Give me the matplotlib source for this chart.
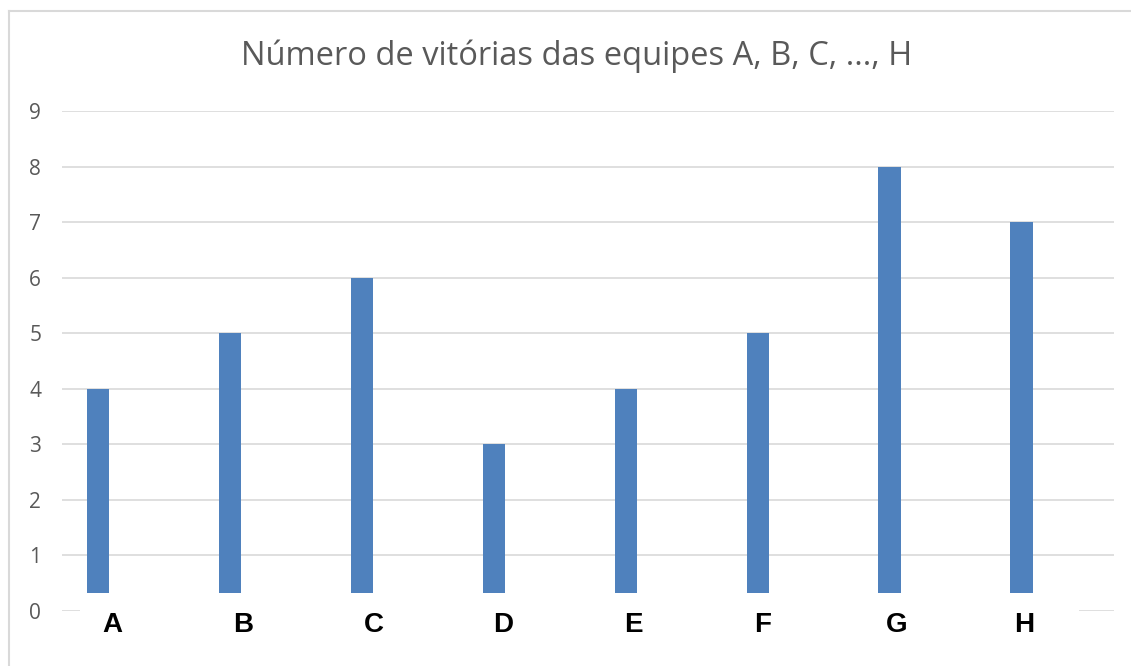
import matplotlib.pyplot as plt
from matplotlib.patches import Rectangle
from matplotlib.lines import Line2D

# dados
equipes = ['A', 'B', 'C', 'D', 'E', 'F', 'G', 'H']
vitorias = [4, 5, 6, 3, 4, 5, 8, 7]
y_ticks = [0, 1, 2, 3, 4, 5, 6, 7, 8, 9]
titulo = 'Número de vitórias das equipes A, B, C, ..., H'

# deslocamento dos rótulos (caixas de texto manuais no original)
desloc = [0.105, 0.10, 0.09, 0.07, 0.06, 0.04, 0.055, 0.02]

fig = plt.figure(figsize=(11.31, 6.66), dpi=100)
ax = fig.add_axes([62 / 1131, 1 - 611 / 666, (1114 - 62) / 1131, 500 / 666])

x = list(range(len(equipes)))
ax.bar(x, vitorias, width=0.17, color='#4f81bd', zorder=2)

ax.set_ylim(0, 9)
ax.set_xlim(-0.273, 7.70)
ax.set_yticks(y_ticks)
ax.set_xticks([])
ax.grid(axis='y', color='#d9d9d9', linewidth=1.2, zorder=0)
for s in ax.spines.values():
    s.set_visible(False)
ax.tick_params(axis='y', length=0, pad=15, labelsize=15, labelcolor='#595959')
for t in ax.get_yticklabels():
    t.set_fontfamily('Open Sans')

# faixa branca que cobre a base das barras
ax.add_patch(Rectangle((-0.136, -0.6), 7.57, 0.92, facecolor='white',
                       edgecolor='none', zorder=3, clip_on=False))

for i, lab in enumerate(equipes):
    ax.text(i + desloc[i], -0.25, lab, ha='center', va='center',
            fontsize=20, fontweight='bold', family='Liberation Sans',
            color='black', zorder=4, clip_on=False)

fig.text(577 / 1131, 1 - 56 / 666, titulo, ha='center', va='center',
         fontsize=23.5, color='#595959', family='Open Sans')

# moldura do gráfico
fig.add_artist(Line2D([9 / 1131, 9 / 1131], [0, 1 - 11 / 666], color='#d9d9d9', lw=1.5))
fig.add_artist(Line2D([9 / 1131, 1], [1 - 11 / 666, 1 - 11 / 666], color='#d9d9d9', lw=1.5))

fig.savefig('out.png', dpi=100)
